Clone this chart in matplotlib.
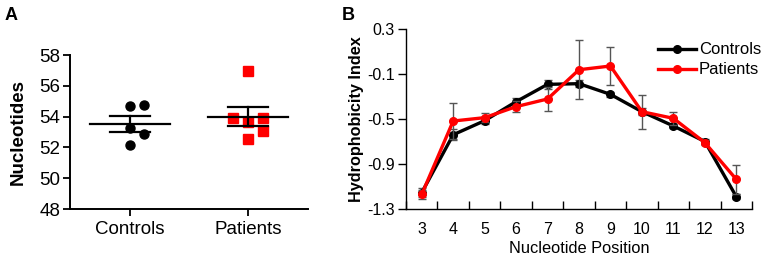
import matplotlib
matplotlib.use("Agg")
import matplotlib.pyplot as plt
from matplotlib.lines import Line2D
import numpy as np

plt.rcParams['font.family'] = ['Liberation Sans', 'DejaVu Sans']
plt.rcParams['axes.unicode_minus'] = False

# Panel A data
groups = ["Controls", "Patients"]
controls_vals = [54.70, 54.77, 53.24, 52.85, 52.14]
controls_offsets = [0.0, 0.12, 0.0, 0.12, 0.0]
patients_vals = [56.95, 53.89, 53.67, 53.89, 53.08, 52.53]
patients_offsets = [0.0, -0.127, 0.0, 0.127, 0.127, 0.0]

# Panel B data
positions = [3, 4, 5, 6, 7, 8, 9, 10, 11, 12, 13]
controls_hi = [-1.155, -0.64, -0.515, -0.346, -0.192, -0.186, -0.281, -0.435, -0.562, -0.70, -1.19]
controls_err = [0.04, 0.05, 0.03, 0.03, 0.04, 0.03, 0.02, 0.03, 0.02, 0.02, 0.02]
patients_hi = [-1.17, -0.518, -0.488, -0.39, -0.322, -0.062, -0.029, -0.435, -0.494, -0.71, -1.036]
patients_err = [0.04, 0.16, 0.04, 0.05, 0.11, 0.26, 0.17, 0.15, 0.06, 0.02, 0.13]
b_yticks = [-1.3, -0.9, -0.5, -0.1, 0.3]

fig = plt.figure(figsize=(7.65, 2.57), dpi=100)

# ---------- Panel A ----------
axA = fig.add_axes([70/765, 1-209/257, 238/765, 154/257])
for i, (vals, offs, marker, color) in enumerate(
        [(controls_vals, controls_offsets, 'o', 'black'),
         (patients_vals, patients_offsets, 's', '#FF0000')]):
    x = [i + o for o in offs]
    axA.plot(x, vals, linestyle='none', marker=marker, color=color,
             markersize=6.5, zorder=2)
    v = np.array(vals)
    m = v.mean()
    sem = v.std(ddof=1) / np.sqrt(len(v))
    axA.plot([i - 0.34, i + 0.34], [m, m], color='black', lw=1.6, zorder=3)
    axA.plot([i - 0.17, i + 0.17], [m + sem, m + sem], color='black', lw=1.6, zorder=3)
    axA.plot([i - 0.17, i + 0.17], [m - sem, m - sem], color='black', lw=1.6, zorder=3)
    axA.plot([i, i], [m - sem, m + sem], color='black', lw=1.6, zorder=3)

axA.set_xlim(-0.51, 1.51)
axA.set_ylim(48, 58)
axA.set_yticks([48, 50, 52, 54, 56, 58])
axA.set_xticks([0, 1])
axA.set_xticklabels(groups)
axA.tick_params(axis='both', labelsize=13.5, width=1.3, length=5, direction='out', pad=2)
axA.tick_params(axis='x', pad=4)
for s in ['top', 'right']:
    axA.spines[s].set_visible(False)
for s in ['left', 'bottom']:
    axA.spines[s].set_linewidth(1.4)
axA.set_ylabel("Nucleotides", fontsize=13.5, fontweight='bold', labelpad=9)
fig.text(5/765, 1-20/257, "A", fontsize=13, fontweight='bold', ha='left', va='baseline')

# ---------- Panel B ----------
axB = fig.add_axes([406/765, 1-209/257, 346/765, 180/257])
ecol = '#555555'
axB.errorbar(positions, controls_hi, yerr=controls_err, color='black', lw=2.4,
             marker='o', markersize=5.5, ecolor=ecol, elinewidth=1, capsize=3,
             capthick=1, zorder=2)
axB.errorbar(positions, patients_hi, yerr=patients_err, color='#FF0000', lw=2.4,
             marker='o', markersize=5.5, ecolor=ecol, elinewidth=1, capsize=3,
             capthick=1, zorder=3)
axB.set_xlim(2.5, 13.5)
axB.set_ylim(-1.3, 0.3)
axB.set_yticks(b_yticks)
axB.set_yticklabels([f"{v:.1f}" for v in b_yticks])
axB.set_xticks(positions)
axB.set_xticks(np.arange(2.5, 14, 1.0), minor=True)
axB.tick_params(axis='x', which='major', length=0, labelsize=11.5, pad=9)
axB.tick_params(axis='x', which='minor', length=6, width=1, direction='in')
axB.tick_params(axis='y', labelsize=11.5, length=6, width=1, direction='out', pad=2)
for s in ['top', 'right']:
    axB.spines[s].set_visible(False)
for s in ['left', 'bottom']:
    axB.spines[s].set_linewidth(1.0)
axB.set_xlabel("Nucleotide Position", fontsize=11.8, labelpad=3)
axB.set_ylabel("Hydrophobicity Index", fontsize=11.7, fontweight='bold', labelpad=2)
handles = [Line2D([], [], color='black', lw=2.4, marker='o', markersize=5.5),
           Line2D([], [], color='#FF0000', lw=2.4, marker='o', markersize=5.5)]
axB.legend(handles, ["Controls", "Patients"], loc='upper left',
           bbox_to_anchor=(0.728, 0.925), frameon=False,
           fontsize=12, handlelength=2.3, handletextpad=0.15, labelspacing=0.3,
           borderaxespad=0, borderpad=0)
fig.text(342/765, 1-20/257, "B", fontsize=13, fontweight='bold', ha='left', va='baseline')

fig.savefig("out.png", dpi=100)
